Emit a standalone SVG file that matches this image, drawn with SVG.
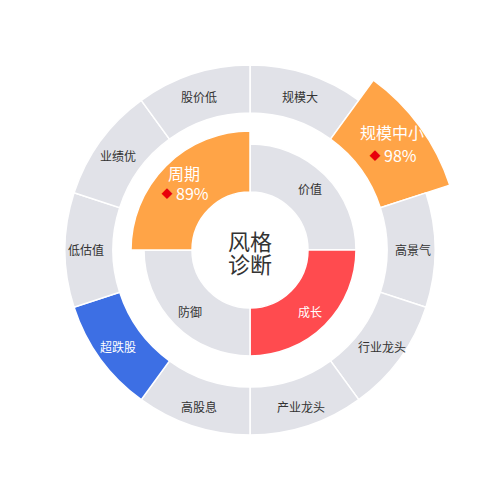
<svg xmlns="http://www.w3.org/2000/svg" width="500" height="500" viewBox="0 0 500 500">
<style>
.seg{fill:#e1e2e8;stroke:#fff;stroke-width:1.5}
.org{fill:#ffa447}
.red{fill:#ff4b4f}
.blue{fill:#3d6fe4}
text{font-family:"Noto Sans CJK SC","Noto Sans",sans-serif;text-anchor:middle;dominant-baseline:central}
.lb{font-size:12px;fill:#333}
.wl{font-size:12px;fill:#fff}
.hl{font-size:16px;fill:#fff}
.dm{fill:#e8000b;font-size:11px}
.ct{font-size:22px;fill:#333}
</style>
<rect width="500" height="500" fill="#fff"/>
<g id="outer-ring">
<g id="n-guimoda"><path class="seg" d="M250 65A185 185 0 0 1 358.74 100.33L330.53 139.17A137 137 0 0 0 250 113Z"/><text class="lb" x="300" y="96">规模大</text></g>
<g id="n-guimozhongxiao"><path class="seg org" d="M373.44 80.11A210 210 0 0 1 449.73 185.11L380.3 207.67A137 137 0 0 0 330.53 139.17Z"/><text class="hl" x="392" y="132">规模中小</text><text class="hl" x="393" y="155"><tspan class="dm">◆</tspan> 98%</text></g>
<g id="n-gaojingqi"><path class="seg" d="M425.95 192.83A185 185 0 0 1 425.95 307.17L380.3 292.33A137 137 0 0 0 380.3 207.67Z"/><text class="lb" x="413" y="249">高景气</text></g>
<g id="n-hangyelongtou"><path class="seg" d="M425.95 307.17A185 185 0 0 1 358.74 399.67L330.53 360.83A137 137 0 0 0 380.3 292.33Z"/><text class="lb" x="382" y="346">行业龙头</text></g>
<g id="n-chanyelongtou"><path class="seg" d="M358.74 399.67A185 185 0 0 1 250 435L250 387A137 137 0 0 0 330.53 360.83Z"/><text class="lb" x="301" y="406">产业龙头</text></g>
<g id="n-gaogux"><path class="seg" d="M250 435A185 185 0 0 1 141.26 399.67L169.47 360.83A137 137 0 0 0 250 387Z"/><text class="lb" x="199" y="406">高股息</text></g>
<g id="n-chaodiegu"><path class="seg blue" d="M141.26 399.67A185 185 0 0 1 74.05 307.17L119.7 292.33A137 137 0 0 0 169.47 360.83Z"/><text class="wl" x="118" y="346">超跌股</text></g>
<g id="n-diguzhi"><path class="seg" d="M74.05 307.17A185 185 0 0 1 74.05 192.83L119.7 207.67A137 137 0 0 0 119.7 292.33Z"/><text class="lb" x="86" y="249">低估值</text></g>
<g id="n-yejiyou"><path class="seg" d="M74.05 192.83A185 185 0 0 1 141.26 100.33L169.47 139.17A137 137 0 0 0 119.7 207.67Z"/><text class="lb" x="118" y="155">业绩优</text></g>
<g id="n-gujiadi"><path class="seg" d="M141.26 100.33A185 185 0 0 1 250 65L250 113A137 137 0 0 0 169.47 139.17Z"/><text class="lb" x="199" y="96">股价低</text></g>
</g>
<g id="inner-ring">
<g id="n-jiazhi"><path class="seg" d="M250 144A106 106 0 0 1 356 250L308 250A58 58 0 0 0 250 192Z"/><text class="lb" x="310" y="188">价值</text></g>
<g id="n-chengzhang"><path class="seg red" d="M356 250A106 106 0 0 1 250 356L250 308A58 58 0 0 0 308 250Z"/><text class="wl" x="310" y="311">成长</text></g>
<g id="n-fangyu"><path class="seg" d="M250 356A106 106 0 0 1 144 250L192 250A58 58 0 0 0 250 308Z"/><text class="lb" x="190" y="311">防御</text></g>
<g id="n-zhouqi"><path class="seg org" d="M131 250A119 119 0 0 1 250 131L250 192A58 58 0 0 0 192 250Z"/><text class="hl" x="184" y="173">周期</text><text class="hl" x="185" y="193"><tspan class="dm">◆</tspan> 89%</text></g>
</g>
<g id="center">
<text class="ct" x="250" y="240">风格</text>
<text class="ct" x="250" y="263">诊断</text>
</g>
<g id="connectors"></g>
</svg>
